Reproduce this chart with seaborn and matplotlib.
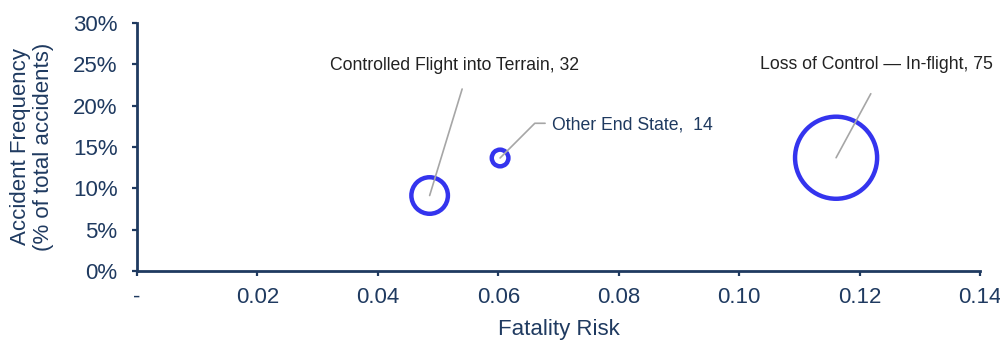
import matplotlib
matplotlib.use("Agg")
import matplotlib.pyplot as plt
from matplotlib.ticker import FuncFormatter, PercentFormatter, MultipleLocator
import pandas as pd
import seaborn as sns

# Accident end states: fatality risk vs. share of total accidents, bubble = count
categories = ["Controlled Flight into Terrain", "Other End State", "Loss of Control \u2014 In-flight"]
fatality_risk = [0.0486, 0.0603, 0.1161]
accident_freq = [0.0913, 0.1367, 0.1370]
accident_count = [32, 14, 75]

df = pd.DataFrame({
    "category": categories,
    "risk": fatality_risk,
    "freq": accident_freq,
    "count": accident_count,
})

NAVY = "#1F3A60"
BLUE = "#3434EE"
LEADER = "#A6A6A6"
TEXT_DARK = "#222222"

sns.set_theme(style="white")
plt.rcParams["font.family"] = ["Liberation Sans", "DejaVu Sans"]

fig = plt.figure(figsize=(10, 3.41), dpi=100)
ax = fig.add_axes([0.137, 0.2053, 0.843, 0.7273])

# bubble diameter grows roughly linearly with the accident count
size_map = {c: 0.956 * c ** 1.9 for c in accident_count}

sns.scatterplot(
    data=df, x="risk", y="freq", size="count", sizes=size_map,
    facecolor="none", edgecolor=BLUE, linewidth=3.2, legend=False, ax=ax, zorder=3,
)
for coll in ax.collections:
    coll.set_facecolor("none")
    coll.set_edgecolor(BLUE)

ax.set_xlim(0, 0.14)
ax.set_ylim(0, 0.30)
ax.xaxis.set_major_locator(MultipleLocator(0.02))
ax.yaxis.set_major_locator(MultipleLocator(0.05))
ax.xaxis.set_major_formatter(FuncFormatter(lambda v, _: "-" if abs(v) < 1e-9 else f"{v:.2f}"))
ax.yaxis.set_major_formatter(PercentFormatter(xmax=1, decimals=0))

for side in ("top", "right"):
    ax.spines[side].set_visible(False)
for side in ("left", "bottom"):
    ax.spines[side].set_color(NAVY)
    ax.spines[side].set_linewidth(2)

ax.tick_params(axis="both", which="major", direction="out", length=3.6, width=1.6,
               color=NAVY, labelcolor=NAVY, labelsize=16)
ax.tick_params(axis="y", pad=10.5)
ax.tick_params(axis="x", pad=8)
ax.tick_params(left=True, bottom=True)

ax.set_xlabel("Fatality Risk", fontsize=16, color=NAVY)
ax.set_ylabel("Accident Frequency\n(% of total accidents)", fontsize=16, color=NAVY,
              linespacing=1.1)
ax.xaxis.set_label_coords(0.5, -0.235)
ax.xaxis.label.set_verticalalignment("center")
ax.yaxis.set_label_coords(-0.1246, 0.5)
ax.yaxis.label.set_verticalalignment("center")

# Leader lines and labels, offsets in pixels from each bubble centre
line_kw = dict(arrowstyle="-", color=LEADER, lw=1.2, shrinkA=0, shrinkB=0)

# Controlled Flight into Terrain
x0, y0, n0 = fatality_risk[0], accident_freq[0], accident_count[0]
ax.annotate("", xy=(x0, y0), xytext=(32.5, 106.5), textcoords="offset pixels",
            arrowprops=line_kw, zorder=4)
ax.annotate(f"{categories[0]}, {n0}", xy=(x0, y0), xytext=(24.5, 130.5),
            textcoords="offset pixels", ha="center", va="center",
            fontsize=12.7, color=TEXT_DARK)

# Other End State
x1, y1, n1 = fatality_risk[1], accident_freq[1], accident_count[1]
ax.annotate("", xy=(x1, y1), xytext=(45, 34.7), textcoords="offset pixels",
            arrowprops=dict(line_kw, connectionstyle="angle,angleA=0,angleB=45,rad=0"),
            zorder=4)
ax.annotate(f"{categories[1]},  {n1}", xy=(x1, y1), xytext=(51.7, 32.5),
            textcoords="offset pixels", ha="left", va="center",
            fontsize=12.7, color=NAVY)

# Loss of Control - In-flight
x2, y2, n2 = fatality_risk[2], accident_freq[2], accident_count[2]
ax.annotate("", xy=(x2, y2), xytext=(34.7, 64), textcoords="offset pixels",
            arrowprops=line_kw, zorder=4)
ax.annotate(f"{categories[2]}, {n2}", xy=(x2, y2), xytext=(40.5, 93),
            textcoords="offset pixels", ha="center", va="center",
            fontsize=12.7, color=TEXT_DARK)

fig.savefig("out.png", dpi=100)
